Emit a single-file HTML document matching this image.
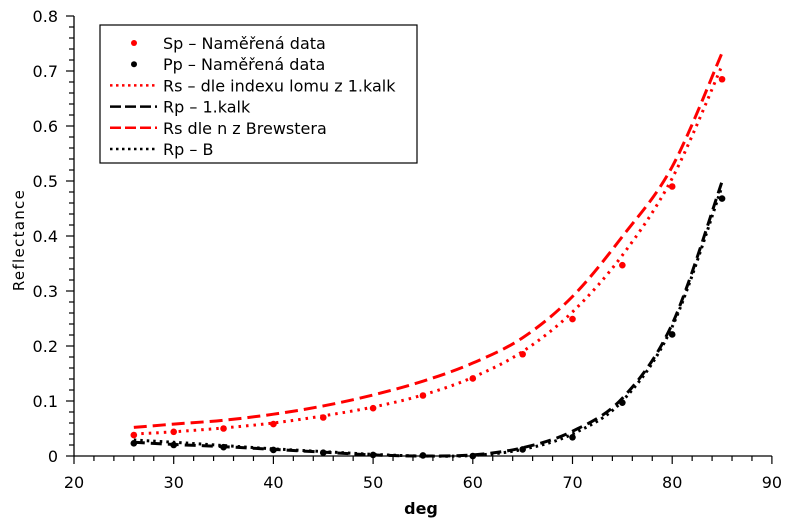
<!DOCTYPE html>
<html><head><meta charset="utf-8"><style>
html,body{margin:0;padding:0;background:#fff;}
svg{display:block;font-family:"DejaVu Sans","Liberation Sans",sans-serif;}
</style></head><body>
<svg id="chart" width="791" height="524" viewBox="0 0 791 524">
<g id="axes"></g>
<g id="series"></g>
<g id="legend"></g>
</svg>
<script>
const xTicks = [20,30,40,50,60,70,80,90];
const yTicks = [0,0.1,0.2,0.3,0.4,0.5,0.6,0.7,0.8];
const yTickLabels = ["0","0.1","0.2","0.3","0.4","0.5","0.6","0.7","0.8"];
const angles = [26,30,35,40,45,50,55,60,65,70,75,80,85];
const spMeasured = [0.038,0.044,0.050,0.058,0.070,0.087,0.110,0.141,0.185,0.249,0.347,0.490,0.685];
const ppMeasured = [0.023,0.020,0.016,0.011,0.006,0.002,0.001,0.000,0.012,0.034,0.097,0.221,0.468];
const rsKalk = [0.040,0.044,0.051,0.060,0.073,0.089,0.111,0.143,0.190,0.262,0.365,0.505,0.710];
const rpKalk = [0.025,0.021,0.017,0.012,0.007,0.002,0.000,0.002,0.015,0.045,0.105,0.240,0.499];
const rsBrewster = [0.052,0.058,0.065,0.076,0.091,0.111,0.136,0.169,0.215,0.290,0.399,0.526,0.733];
const rpB = [0.029,0.025,0.019,0.013,0.008,0.003,0.000,0.001,0.012,0.040,0.100,0.235,0.490];

const NS="http://www.w3.org/2000/svg";
const X0=74, XS=9.97, Y0=456, YS=550;
function sx(v){return X0+(v-20)*XS;}
function sy(v){return Y0-v*YS;}
function mk(tag,attrs,parent){const e=document.createElementNS(NS,tag);for(const k in attrs)e.setAttribute(k,attrs[k]);parent.appendChild(e);return e;}

const axes=document.getElementById('axes');
let l=mk('line',{x1:sx(20),y1:Y0,x2:sx(90),y2:Y0,stroke:'#000','stroke-width':1.3},axes);


l=mk('line',{x1:sx(20),y1:sy(0),x2:sx(20),y2:sy(0.8),stroke:'#000','stroke-width':1.3},axes);


for(let v=20;v<=90;v+=2){
  const major=(v%10===0);
  const t=mk('line',{x1:sx(v),y1:Y0,x2:sx(v),y2:Y0+(major?8:5),stroke:'#000','stroke-width':1.2},axes);
  
  
}
for(let i=0;i<=40;i++){
  const v=i*0.02, major=(i%5===0);
  const t=mk('line',{x1:sx(20),y1:sy(v),x2:sx(20)-(major?8:5),y2:sy(v),stroke:'#000','stroke-width':1.2},axes);
  
  
}
xTicks.forEach(v=>{
  const t=mk('text',{x:sx(v),y:488,'text-anchor':'middle','font-size':16,fill:'#000'},axes);
  t.textContent=String(v);
  
  
});
yTicks.forEach((v,i)=>{
  const t=mk('text',{x:58,y:sy(v)+6,'text-anchor':'end','font-size':16,fill:'#000'},axes);
  t.textContent=yTickLabels[i];
  
  
});
let xt=mk('text',{x:421,y:514,'text-anchor':'middle','font-size':16,'font-weight':'bold',fill:'#000'},axes);
xt.textContent='deg';


let yt=mk('text',{x:0,y:0,'text-anchor':'middle','font-size':15,'letter-spacing':'1.3',fill:'#000',transform:'translate(24,240) rotate(-90)'},axes);
yt.textContent='Reflectance';



function smoothPath(xs,ys){
  const p=xs.map((x,i)=>[sx(x),sy(ys[i])]);
  let d='M'+p[0][0]+','+p[0][1];
  for(let i=0;i<p.length-1;i++){
    const a=p[Math.max(i-1,0)],b=p[i],c=p[i+1],e=p[Math.min(i+2,p.length-1)];
    const c1=[b[0]+(c[0]-a[0])/6,b[1]+(c[1]-a[1])/6];
    const c2=[c[0]-(e[0]-b[0])/6,c[1]-(e[1]-b[1])/6];
    d+=' C'+c1[0]+','+c1[1]+' '+c2[0]+','+c2[1]+' '+c[0]+','+c[1];
  }
  return d;
}
const ser=document.getElementById('series');
let p;
p=mk('path',{d:smoothPath(angles,rpB),fill:'none',stroke:'#000','stroke-width':3,'stroke-dasharray':'2.5 4'},ser);


p=mk('path',{d:smoothPath(angles,rpKalk),fill:'none',stroke:'#000','stroke-width':3,'stroke-dasharray':'11 6'},ser);


p=mk('path',{d:smoothPath(angles,rsKalk),fill:'none',stroke:'#f00','stroke-width':3,'stroke-dasharray':'2.5 5'},ser);


p=mk('path',{d:smoothPath(angles,rsBrewster),fill:'none',stroke:'#f00','stroke-width':3,'stroke-dasharray':'13 6'},ser);


angles.forEach((a,i)=>{
  const c=mk('circle',{cx:sx(a),cy:sy(spMeasured[i]),r:3.3,fill:'#f00'},ser);
  
  
  const c2=mk('circle',{cx:sx(a),cy:sy(ppMeasured[i]),r:3.3,fill:'#000'},ser);
  
  
});

const lg=document.getElementById('legend');
let box=mk('rect',{x:100,y:25,width:317,height:138,fill:'#fff',stroke:'#000','stroke-width':1.2},lg);


const entries=[
  {t:'Sp – Naměřená data',type:'dot',c:'#f00'},
  {t:'Pp – Naměřená data',type:'dot',c:'#000'},
  {t:'Rs – dle indexu lomu z 1.kalk',type:'line',c:'#f00',da:'2.5 3.5'},
  {t:'Rp – 1.kalk',type:'line',c:'#000',da:'11 4'},
  {t:'Rs dle n z Brewstera',type:'line',c:'#f00',da:'11 4'},
  {t:'Rp – B',type:'line',c:'#000',da:'2.5 3.5'}
];
entries.forEach((e,i)=>{
  const y=43+i*21.2;
  const g=mk('g',{},lg);
  
  
  if(e.type==='dot'){mk('circle',{cx:134,cy:y,r:3,fill:e.c},g);}
  else{mk('line',{x1:110,y1:y,x2:157,y2:y,stroke:e.c,'stroke-width':2.5,'stroke-dasharray':e.da},g);}
  const t=mk('text',{x:163,y:y+6,'font-size':16,fill:'#000'},g);
  t.textContent=e.t;
});
</script>
</body></html>
